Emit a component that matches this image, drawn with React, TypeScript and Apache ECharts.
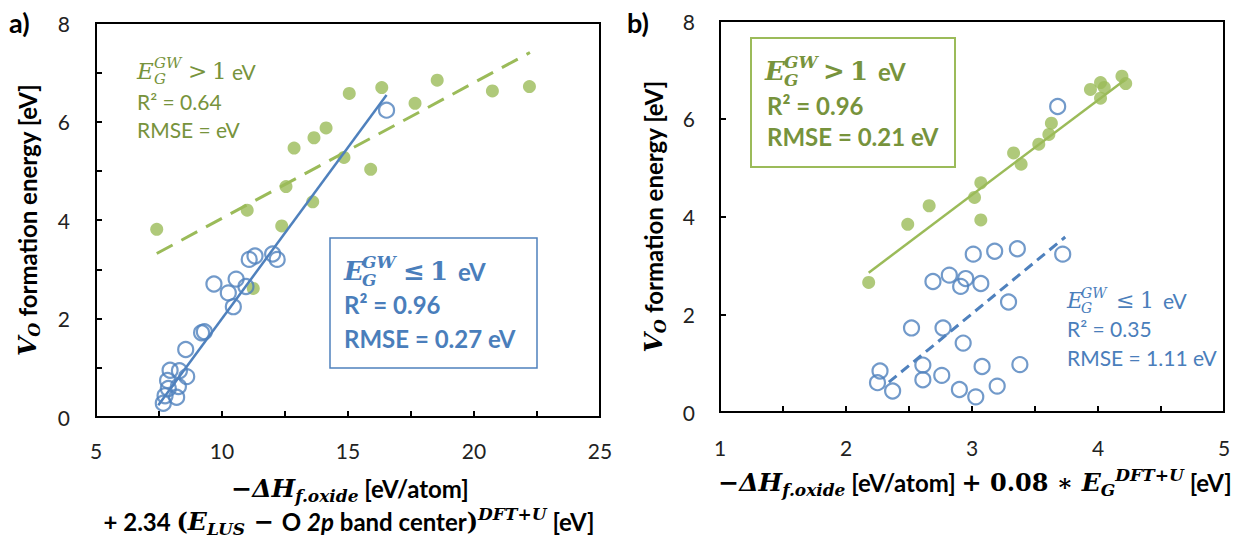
import React, { useEffect, useRef } from 'react';
import * as echarts from 'echarts';

// ---------- data ----------
// Panel a) x: -dHf.oxide + 2.34(E_LUS - O 2p band center), y: V_O formation energy
const leftHighGap: [number, number][] = [
  [7.41, 3.81], [11.0, 4.2], [12.54, 4.68], [12.37, 3.88], [12.86, 5.46], [13.65, 5.67],
  [14.13, 5.87], [13.6, 4.37], [14.84, 5.27], [15.05, 6.57], [15.9, 5.03], [16.34, 6.69],
  [17.66, 6.37], [18.54, 6.84], [20.73, 6.62], [22.2, 6.71], [11.24, 2.61],
];
const leftLowGap: [number, number][] = [
  [9.68, 2.7], [10.25, 2.52], [10.56, 2.8], [10.45, 2.24], [10.95, 2.65], [11.08, 3.2],
  [11.31, 3.27], [12.01, 3.31], [12.19, 3.2], [9.19, 1.71], [9.3, 1.73], [8.56, 1.37],
  [7.94, 0.95], [7.84, 0.74], [8.31, 0.94], [8.6, 0.82], [8.27, 0.62], [7.87, 0.58],
  [7.74, 0.43], [8.2, 0.4], [7.67, 0.28], [16.53, 6.23],
];
const leftHighFit: [number, number][] = [[7.41, 3.32], [22.22, 7.4]];
const leftLowFit: [number, number][] = [[7.47, 0.24], [16.53, 6.54]];

// Panel b) x: -dHf.oxide + 0.08 * Eg(DFT+U)
const rightHighGap: [number, number][] = [
  [2.18, 2.65], [2.49, 3.84], [2.66, 4.22], [3.02, 4.39], [3.07, 4.69], [3.07, 3.93],
  [3.33, 5.3], [3.39, 5.07], [3.53, 5.48], [3.61, 5.68], [3.63, 5.91], [3.94, 6.6],
  [4.02, 6.74], [4.02, 6.42], [4.05, 6.64], [4.19, 6.87], [4.22, 6.72],
];
const rightLowGap: [number, number][] = [
  [3.68, 6.25], [3.01, 3.23], [3.18, 3.29], [3.36, 3.34], [3.72, 3.23], [2.69, 2.67],
  [2.82, 2.8], [2.91, 2.57], [2.95, 2.73], [3.07, 2.63], [3.29, 2.25], [2.52, 1.72],
  [2.77, 1.72], [2.93, 1.41], [2.27, 0.84], [2.25, 0.6], [2.37, 0.43], [2.61, 0.96],
  [2.61, 0.66], [2.76, 0.75], [2.9, 0.46], [3.03, 0.31], [3.08, 0.93], [3.2, 0.53],
  [3.38, 0.97],
];
const rightHighFit: [number, number][] = [[2.18, 2.85], [4.21, 6.79]];
const rightLowFit: [number, number][] = [[2.34, 0.61], [3.74, 3.58]];

const leftXRange = [5, 25, 5];
const rightXRange = [1, 5, 1];
const yRange = [0, 8, 2];

const leftHighStats = ['R² = 0.64', 'RMSE = eV'];
const leftLowStats = ['R² = 0.96', 'RMSE = 0.27 eV'];
const rightHighStats = ['R² = 0.96', 'RMSE = 0.21 eV'];
const rightLowStats = ['R² = 0.35', 'RMSE = 1.11 eV'];

// ---------- styles ----------
const GREEN = '#9BBB59';
const BLUE = '#4F81BD';
const GREEN_TXT = '#77933C';
const BLUE_TXT = '#4A7EBB';
const SANS = 'Lato, "Open Sans", sans-serif';
const SERIF = '"DejaVu Serif", "Liberation Serif", serif';
const AX = '#222';

function txt(x: number, y: number, text: string, o: any = {}) {
  return {
    type: 'text',
    x,
    y,
    z: 100,
    style: {
      text,
      fontFamily: o.serif ? SERIF : SANS,
      fontSize: o.size || 20,
      fontWeight: o.bold ? 'bold' : 'normal',
      fontStyle: o.italic ? 'italic' : 'normal',
      fill: o.color || '#000',
      align: o.align || 'left',
      verticalAlign: 'middle',
    },
  };
}

// E_G^{GW} <op> 1 eV label; offs = [gw, op, one, ev] offsets from x
function gapLabel(x: number, y: number, op: string, bold: boolean, big: number, small: number, evSize: number, color: string, offs: number[]) {
  return [
    txt(x, y, 'E', { serif: true, italic: true, bold, size: big, color }),
    txt(x + offs[0], y - big * 0.33, 'GW', { serif: true, italic: true, bold, size: small, color }),
    txt(x + offs[0], y + big * 0.36, 'G', { serif: true, italic: true, bold, size: small, color }),
    txt(x + offs[1], y, op, { serif: true, bold, size: big, color }),
    txt(x + offs[2], y, '1', { serif: true, bold, size: big, color }),
    txt(x + offs[3], y, 'eV', { bold, size: evSize, color }),
  ];
}

function axisCommon(min: number, max: number, interval: number, minor: boolean, margin: number) {
  return {
    type: 'value',
    min,
    max,
    interval,
    axisLine: { show: true, lineStyle: { color: '#000', width: 2 } },
    axisTick: { show: true, inside: true, length: 6, lineStyle: { color: '#000', width: 2 } },
    minorTick: { show: minor, splitNumber: 2, length: 6, lineStyle: { color: '#000', width: 2 } },
    splitLine: { show: false },
    axisLabel: { color: AX, fontFamily: SANS, fontSize: 21, margin },
  };
}

const yName = '{v|V}{o|O}{t| formation energy [eV]}';
const yNameStyle = {
  rich: {
    v: { fontFamily: SERIF, fontStyle: 'italic', fontWeight: 'bold', fontSize: 25, color: '#000', lineHeight: 30 },
    o: { fontFamily: SERIF, fontStyle: 'italic', fontWeight: 'bold', fontSize: 16, color: '#000', lineHeight: 12, verticalAlign: 'bottom' },
    t: { fontFamily: SANS, fontWeight: 'bold', fontSize: 24, color: '#000', lineHeight: 30 },
  },
};

function scatterHigh(data: [number, number][], idx: number) {
  return {
    type: 'scatter',
    xAxisIndex: idx,
    yAxisIndex: idx,
    data,
    symbol: 'circle',
    symbolSize: 13,
    itemStyle: { color: GREEN },
    z: 2,
  };
}
function scatterLow(data: [number, number][], idx: number) {
  return {
    type: 'scatter',
    xAxisIndex: idx,
    yAxisIndex: idx,
    data,
    symbol: 'circle',
    symbolSize: 15,
    itemStyle: { color: 'rgba(255,255,255,0)', borderColor: BLUE, borderWidth: 2.2 },
    z: 3,
  };
}
function fitLine(data: [number, number][], idx: number, color: string, dash: any, width: number) {
  return {
    type: 'line',
    xAxisIndex: idx,
    yAxisIndex: idx,
    data,
    symbol: 'none',
    lineStyle: { color, width, type: dash },
    z: 4,
  };
}

const richTitle = {
  m: { fontFamily: SERIF, fontStyle: 'italic', fontWeight: 'bold', fontSize: 25, fill: '#000', lineHeight: 32 },
  sub: { fontFamily: SERIF, fontStyle: 'italic', fontWeight: 'bold', fontSize: 17, fill: '#000', lineHeight: 14, verticalAlign: 'bottom' },
  sup: { fontFamily: SERIF, fontStyle: 'italic', fontWeight: 'bold', fontSize: 17, fill: '#000', lineHeight: 14, verticalAlign: 'top' },
  s: { fontFamily: SANS, fontWeight: 'bold', fontSize: 24, fill: '#000', lineHeight: 32 },
  r: { fontFamily: SERIF, fontWeight: 'bold', fontSize: 24, fill: '#000', lineHeight: 32 },
  bi: { fontFamily: SANS, fontStyle: 'italic', fontWeight: 'bold', fontSize: 24, fill: '#000', lineHeight: 32 },
};

function richText(x: number, y: number, text: string) {
  return {
    type: 'text',
    x,
    y,
    z: 100,
    style: { text, rich: richTitle, align: 'center', verticalAlign: 'middle' },
  };
}

export default function App() {
  const ref = useRef<HTMLDivElement>(null);
  useEffect(() => {
    if (!ref.current) return;
    const chart = echarts.init(ref.current, undefined, { renderer: 'svg' });
    const graphic: any[] = [
      txt(9, 22, 'a)', { bold: true, size: 27 }),
      txt(627, 22, 'b)', { bold: true, size: 27 }),
      // left green annotation
      ...gapLabel(137, 71, '>', false, 23, 15, 21, GREEN_TXT, [17, 51, 75, 95]),
      txt(137, 101, leftHighStats[0], { size: 21, color: GREEN_TXT }),
      txt(137, 129, leftHighStats[1], { size: 21, color: GREEN_TXT }),
      // left blue box
      { type: 'rect', z: 99, shape: { x: 330, y: 238, width: 207, height: 130 }, style: { fill: 'none', stroke: BLUE, lineWidth: 1.5 } },
      ...gapLabel(344, 271, '≤', true, 26, 17, 24, BLUE_TXT, [18, 59, 86, 114]),
      txt(344, 304, leftLowStats[0], { bold: true, size: 24, color: BLUE_TXT }),
      txt(344, 338, leftLowStats[1], { bold: true, size: 24, color: BLUE_TXT }),
      // right green box
      { type: 'rect', z: 99, shape: { x: 751, y: 38, width: 204, height: 129 }, style: { fill: 'none', stroke: GREEN, lineWidth: 2 } },
      ...gapLabel(765, 71, '>', true, 26, 17, 24, GREEN_TXT, [19, 58, 85, 113]),
      txt(767, 105, rightHighStats[0], { bold: true, size: 24, color: GREEN_TXT }),
      txt(767, 136, rightHighStats[1], { bold: true, size: 24, color: GREEN_TXT }),
      // right blue annotation
      ...gapLabel(1067, 300, '≤', false, 22, 14, 21, BLUE_TXT, [14, 49, 73, 96]),
      txt(1067, 328, rightLowStats[0], { size: 21, color: BLUE_TXT }),
      txt(1067, 357, rightLowStats[1], { size: 21, color: BLUE_TXT }),
      // x titles
      richText(350, 488, '{m|−ΔH}{sub|f.oxide}{s| [eV/atom]}'),
      richText(349, 521, '{s|+ 2.34 }{r|(}{m|E}{sub|LUS}{r| − }{s|O }{bi|2p}{s| band center}{r|)}{sup|DFT+U}{s| [eV]}'),
      richText(975, 482, '{m|−ΔH}{sub|f.oxide}{s| [eV/atom] }{r|+ 0.08 ∗ }{m|E}{sub|G}{sup|DFT+U}{s| [eV]}'),
    ];

    chart.setOption({
      animation: false,
      backgroundColor: '#fff',
      grid: [
        { left: 96, top: 23, width: 504, height: 394, show: true, borderColor: '#000', borderWidth: 2 },
        { left: 720, top: 21, width: 504, height: 391, show: true, borderColor: '#000', borderWidth: 2 },
      ],
      xAxis: [
        { ...axisCommon(leftXRange[0], leftXRange[1], leftXRange[2], true, 23), gridIndex: 0 },
        { ...axisCommon(rightXRange[0], rightXRange[1], rightXRange[2], true, 25), gridIndex: 1 },
      ],
      yAxis: [
        {
          ...axisCommon(yRange[0], yRange[1], yRange[2], true, 26),
          gridIndex: 0,
          name: yName,
          nameLocation: 'middle',
          nameRotate: 90,
          nameGap: 54,
          nameTextStyle: yNameStyle,
        },
        {
          ...axisCommon(yRange[0], yRange[1], yRange[2], false, 25),
          gridIndex: 1,
          name: yName,
          nameLocation: 'middle',
          nameRotate: 90,
          nameGap: 52,
          nameTextStyle: yNameStyle,
        },
      ],
      series: [
        scatterHigh(leftHighGap, 0),
        scatterLow(leftLowGap, 0),
        fitLine(leftHighFit, 0, GREEN, [18, 10], 3),
        fitLine(leftLowFit, 0, BLUE, 'solid', 2.5),
        scatterHigh(rightHighGap, 1),
        scatterLow(rightLowGap, 1),
        fitLine(rightHighFit, 1, GREEN, 'solid', 2.5),
        fitLine(rightLowFit, 1, BLUE, [10, 6], 3),
      ],
      graphic,
    });
    return () => chart.dispose();
  }, []);
  return <div ref={ref} style={{ position: 'fixed', left: 0, top: 0, width: 1238, height: 537, background: '#fff' }} />;
}
